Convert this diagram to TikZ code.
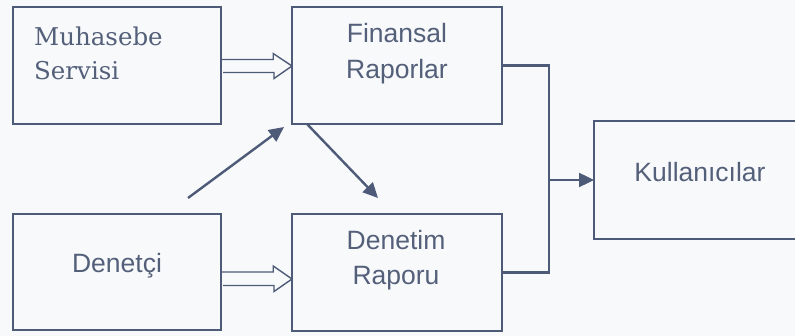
\documentclass[tikz,border=0pt]{standalone}
\usepackage{fontspec}
\setmainfont{Liberation Sans}
\newfontfamily\serifx{DejaVu Serif}
\usetikzlibrary{arrows.meta,calc}
\definecolor{ink}{RGB}{78,91,120}
\definecolor{txt}{RGB}{84,96,122}
\definecolor{bg}{RGB}{248,249,251}
\tikzset{
  box/.style={draw=ink, line width=2.3pt, rectangle, inner sep=0pt, outer sep=0pt},
  lab/.style={text=txt, inner sep=0pt, anchor=base, font=\fontsize{26.5}{30}\selectfont},
  slab/.style={text=txt, inner sep=0pt, anchor=base west, font=\serifx\fontsize{24.5}{30}\selectfont},
  conn/.style={draw=ink, line width=2.4pt},
  tip/.style={-{Triangle[length=15pt,width=14pt]}},
  hollow/.style={draw=ink, line width=1.4pt, fill=bg, line join=miter}
}
\begin{document}
\begin{tikzpicture}[x=1pt,y=-1pt]
\useasboundingbox[fill=bg] (0,0) rectangle (795,336);
% boxes
\node[box, minimum width=208pt, minimum height=117pt] (mu)  at (117,65.5) {};
\node[box, minimum width=210pt, minimum height=117pt] (fin) at (397,65.5) {};
\node[box, minimum width=208pt, minimum height=116pt] (dc)  at (117,272) {};
\node[box, minimum width=210pt, minimum height=117pt] (dr)  at (397,272.5) {};
\node[box, minimum width=212pt, minimum height=118pt] (k)   at (700,180) {};
% texts
\node[slab] (mu1) at (34,46) {Muhasebe};
\node[slab] (mu2) at (34,80) {Servisi};
\node[lab] (fin1) at (397,43) {Finansal};
\node[lab] (fin2) at (397,78.5) {Raporlar};
\node[lab] (dc1) at (117,272.5) {Denetçi};
\node[lab] (dr1) at (396,250) {Denetim};
\node[lab] (dr2) at (396,285) {Raporu};
\node[lab] (k1) at (700,182) {Kullanıcılar};
% hollow arrows
\draw[hollow] ([xshift=1.2pt,yshift=-0.5pt]mu.east) ++(0,-6.5) -- ++(51,0) -- ++(0,-6)
  -- ([yshift=-0.5pt]fin.west) -- ++(-18,12.5) -- ++(0,-6) -- ++(-51,0);
\draw[hollow] ([xshift=1.2pt,yshift=-6.5pt]dc.east) ++(0,-6.5) -- ++(51,0) -- ++(0,-6)
  -- ([yshift=-6.5pt]dr.west) -- ++(-18,12.5) -- ++(0,-6) -- ++(-51,0);
% diagonal arrows
\coordinate (d1s) at (188,198);
\coordinate (d1e) at (284,127);
\coordinate (d2s) at ([xshift=15pt]fin.south west);
\coordinate (d2e) at (378,198);
\draw[conn,tip] (d1s) -- (d1e);
\draw[conn,tip] (d2s) -- (d2e);
% merge to users
\coordinate (j) at (549,180);
\draw[conn] (fin.east) -| (j) |- (dr.east);
\draw[conn,tip] (j) -- (k.west);
\end{tikzpicture}
\end{document}
